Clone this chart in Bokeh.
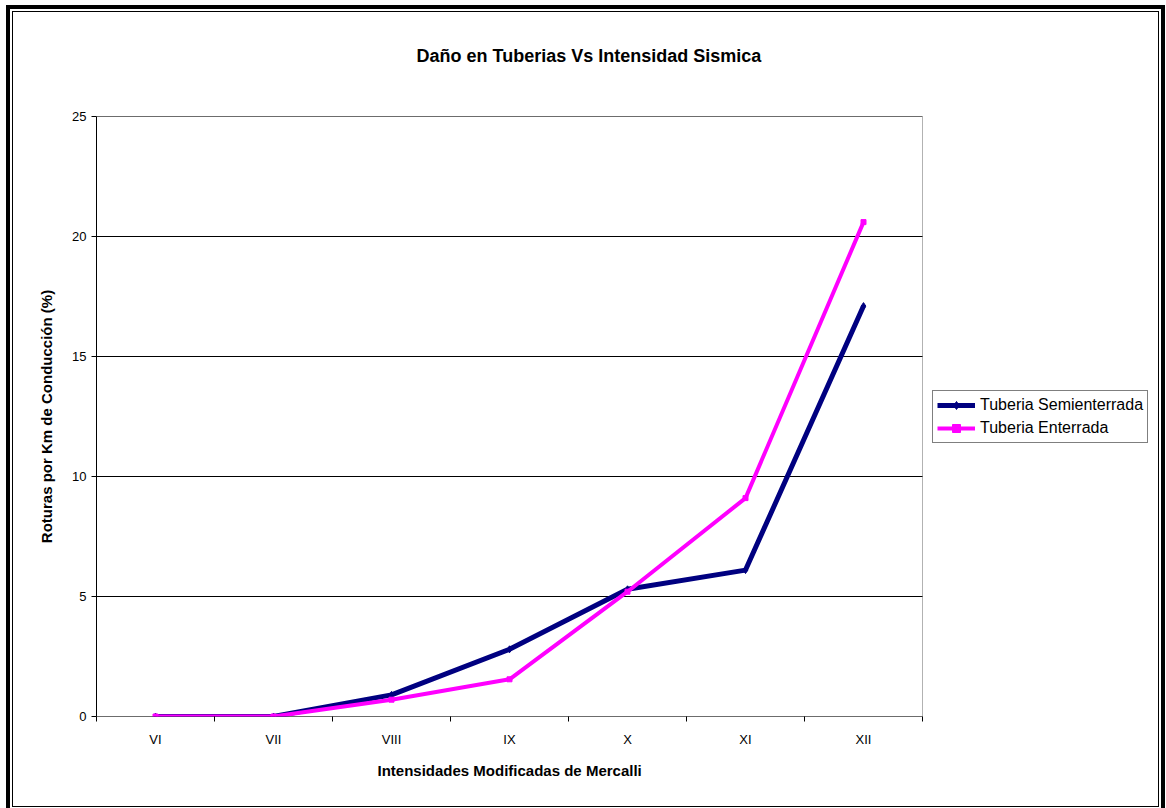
from bokeh.plotting import figure
from bokeh.models import (Range1d, LinearAxis, FixedTicker, Legend, LegendItem, Title,
                          BoxAnnotation)
from bokeh.embed import file_html
from bokeh.resources import INLINE

# ---- data ----
categories = ["VI", "VII", "VIII", "IX", "X", "XI", "XII"]
semienterrada = [0, 0, 0.9, 2.8, 5.3, 6.1, 17.1]
enterrada = [0, 0, 0.7, 1.55, 5.2, 9.1, 20.6]
y_ticks = [0, 5, 10, 15, 20, 25]

title_text = "Daño en Tuberias Vs Intensidad Sismica"
x_label = "Intensidades Modificadas de Mercalli"
y_label = "Roturas por Km de Conducción (%)"
series_names = ["Tuberia Semienterrada", "Tuberia Enterrada"]

FONT = "Liberation Sans"
NAVY = "#000080"
MAGENTA = "#FF00FF"

n = len(categories)
xs = list(range(n))
x_lo, x_hi = -0.5, n - 0.5          # category band limits (plot area)
y_lo, y_hi = y_ticks[0], y_ticks[-1]

# frame spans plot area (7 bands) plus 2 extra bands for the legend region
p = figure(
    frame_width=1062, frame_height=600,
    min_border_left=83, min_border_right=0,
    min_border_top=104, min_border_bottom=90,
    x_range=Range1d(x_lo, x_hi + 2),
    y_range=Range1d(y_lo, y_hi),
    x_axis_type=None, y_axis_type=None,
    output_backend="svg", toolbar_location=None,
    background_fill_color="white", border_fill_color="white",
)
p.margin = (11, 0, 0, 12)
p.styles = {"border": "1px solid black", "outline": "4px solid black",
            "outline-offset": "2px"}
p.outline_line_color = None

# plot-area box
p.add_layout(BoxAnnotation(left=x_lo, right=x_hi, bottom=y_lo, top=y_hi,
                           fill_alpha=0, line_color="black", line_width=1))

# title: spacer panel next to the frame, then the real title above it
p.title.text = ""
spacer = Title(text=" ", text_font=FONT, text_font_size="18px",
               text_font_style="bold", standoff=29, text_color="white")
p.add_layout(spacer, "above")
main_title = Title(text=title_text, align="left", offset=320, standoff=0,
                   text_font=FONT, text_font_size="18px", text_font_style="bold",
                   text_color="black")
p.add_layout(main_title, "above")

# x axis
xaxis = LinearAxis(
    ticker=FixedTicker(ticks=xs, minor_ticks=[i - 0.5 for i in range(n + 1)]),
    major_label_overrides={i: c for i, c in enumerate(categories)},
)
xaxis.axis_line_color = None
xaxis.major_tick_out = 0
xaxis.major_tick_in = 0
xaxis.minor_tick_out = 5
xaxis.minor_tick_in = 0
xaxis.minor_tick_line_color = "black"
xaxis.major_label_standoff = 10
xaxis.major_label_text_font = FONT
xaxis.major_label_text_font_size = "13px"
xaxis.major_label_text_color = "black"
p.add_layout(xaxis, "below")

x_title = Title(text=x_label, align="left", offset=281, standoff=21,
                text_font=FONT, text_font_size="15px", text_font_style="bold",
                text_color="black")
p.add_layout(x_title, "below")

# y axis
yaxis = LinearAxis(ticker=FixedTicker(ticks=y_ticks, minor_ticks=[]), axis_label=y_label)
yaxis.major_tick_out = 5
yaxis.major_tick_in = 0
yaxis.minor_tick_out = 0
yaxis.minor_tick_in = 0
yaxis.axis_line_color = "black"
yaxis.major_tick_line_color = "black"
yaxis.major_label_standoff = 5
yaxis.major_label_text_font = FONT
yaxis.major_label_text_font_size = "13px"
yaxis.major_label_text_color = "black"
yaxis.axis_label_text_font = FONT
yaxis.axis_label_text_font_size = "15px"
yaxis.axis_label_text_font_style = "bold"
yaxis.axis_label_text_color = "black"
yaxis.axis_label_standoff = 14
p.add_layout(yaxis, "left")

# horizontal gridlines limited to the plot area
p.xgrid.visible = False
p.ygrid.visible = False
p.segment(x0=[x_lo] * len(y_ticks), y0=y_ticks, x1=[x_hi] * len(y_ticks), y1=y_ticks,
          line_color="black", line_width=1)

# series
l1 = p.line(xs, semienterrada, line_color=NAVY, line_width=5)
m1 = p.scatter(xs, semienterrada, marker="diamond", size=7, fill_color=NAVY, line_color=NAVY)
l2 = p.line(xs, enterrada, line_color=MAGENTA, line_width=4)
m2 = p.scatter(xs, enterrada, marker="square", size=5, fill_color=MAGENTA, line_color=MAGENTA)

legend = Legend(items=[LegendItem(label=series_names[0], renderers=[l1, m1]),
                       LegendItem(label=series_names[1], renderers=[l2, m2])],
                location=(836, 273))
legend.border_line_color = "black"
legend.border_line_width = 1
legend.background_fill_color = "white"
legend.background_fill_alpha = 1
legend.label_text_font = FONT
legend.label_text_font_size = "16px"
legend.label_text_color = "black"
legend.glyph_width = 38
legend.glyph_height = 20
legend.label_height = 20
legend.label_standoff = 5
legend.padding = 4
legend.spacing = 3
legend.margin = 0
p.add_layout(legend, "center")

open("out.html", "w").write(file_html(p, INLINE))
